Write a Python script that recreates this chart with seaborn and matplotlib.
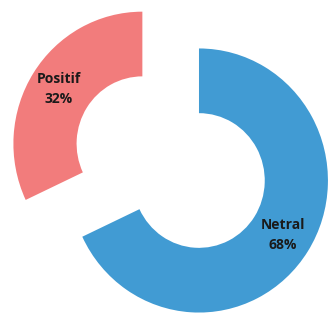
import matplotlib
matplotlib.use('Agg')
import matplotlib.pyplot as plt
import seaborn as sns

# Sentiment share
labels = ['Netral', 'Positif']
values = [68, 32]
colors = ['#419bd3', '#f27c7c']
explode = [0, 0.52]

sns.set_theme(style='white')
plt.rcParams['font.family'] = ['Open Sans', 'DejaVu Sans']

fig = plt.figure(figsize=(3.30, 3.14), dpi=100)
ax = fig.add_axes([0, 0, 1, 1])

def fmt(pct, names=iter(labels)):
    return f"{next(names)}\n{pct:.0f}%"

wedges, texts, autotexts = ax.pie(
    values, colors=colors, explode=explode, startangle=90, counterclock=False,
    autopct=fmt, pctdistance=0.77,
    wedgeprops=dict(width=0.49, edgecolor='none'),
    textprops=dict(fontsize=10, fontweight='bold', color='#1a1a1a',
                   linespacing=1.5),
)

# slightly taller than wide, like the source image
ax.set_xlim(-1.543, 1.016)
ax.set_ylim(-1.011, 1.367)
ax.set_aspect('auto')
ax.axis('off')

fig.savefig('out.png', dpi=100)
